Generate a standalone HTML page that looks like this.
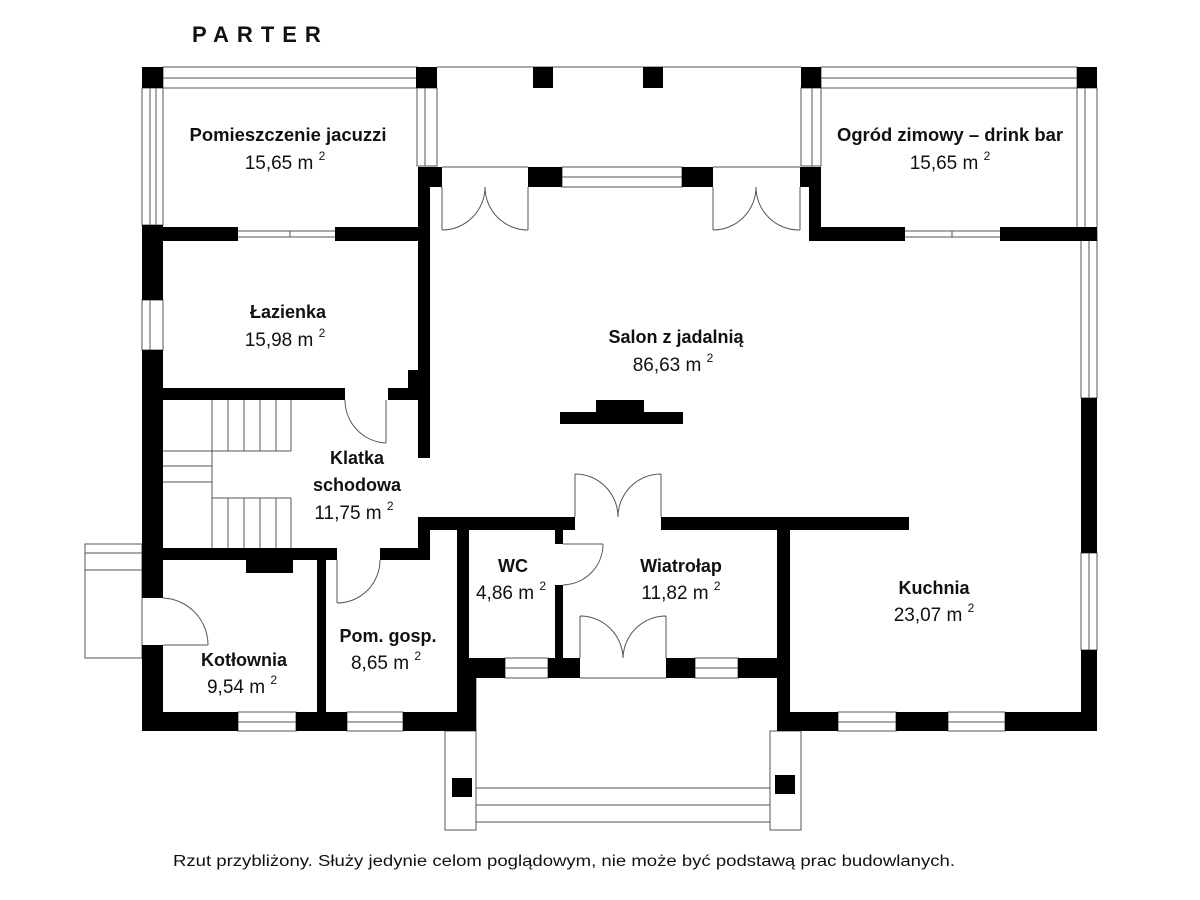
<!DOCTYPE html>
<html><head><meta charset="utf-8"><style>
html,body{margin:0;padding:0;background:#fff;}
svg{display:block;}
text{font-family:"Liberation Sans",sans-serif;fill:#111;}
.b{font-weight:bold;font-size:18px;}
.n{font-size:19px;}
</style></head><body>
<svg width="1200" height="900" viewBox="0 0 1200 900" xmlns="http://www.w3.org/2000/svg">
<g fill="none" stroke="#555" stroke-width="1">
<rect x="163" y="67" width="254" height="21"/><line x1="163" y1="78" x2="417" y2="78"/>
<rect x="821" y="67" width="256" height="21"/><line x1="821" y1="78" x2="1077" y2="78"/>
<line x1="437" y1="67" x2="801" y2="67"/>
<rect x="142" y="88" width="21" height="137"/><line x1="150" y1="88" x2="150" y2="225"/><line x1="156" y1="88" x2="156" y2="225"/>
<rect x="417" y="88" width="20" height="78"/><line x1="425" y1="88" x2="425" y2="166"/>
<rect x="801" y="88" width="20" height="78"/><line x1="812" y1="88" x2="812" y2="166"/>
<rect x="1077" y="88" width="20" height="140"/><line x1="1085" y1="88" x2="1085" y2="228"/>
<rect x="562" y="167" width="120" height="20"/><line x1="562" y1="177" x2="682" y2="177"/>
<line x1="442" y1="167" x2="528" y2="167"/><line x1="713" y1="167" x2="800" y2="167"/>
<path d="M442 187V230M442 230A43 43 0 0 0 485 187M528 187V230M528 230A43 43 0 0 1 485 187"/>
<path d="M713 187V230M713 230A43 43 0 0 0 756 187M800 187V230M800 230A43 43 0 0 1 756 187"/>
<path d="M238 231H335M238 237H335M290 231V237"/>
<path d="M905 231H1000M905 237H1000M952 231V237"/>
<rect x="142" y="300" width="21" height="50"/><line x1="150" y1="300" x2="150" y2="350"/>
<rect x="1081" y="230" width="16" height="168"/><line x1="1089" y1="230" x2="1089" y2="398"/>
<rect x="1081" y="553" width="16" height="97"/><line x1="1089" y1="553" x2="1089" y2="650"/>
<path d="M212 400V548M228 400V451M244 400V451M260 400V451M276 400V451M291 400V451M163 451H291M163 466H212M163 482H212M212 498H291M228 498V548M244 498V548M260 498V548M276 498V548M291 498V548"/>
<path d="M386 400V443M386 443A43 43 0 0 1 345 400"/>
<path d="M337 560V603M337 603A43 43 0 0 0 380 560"/>
<path d="M163 645H208M208 645A47 47 0 0 0 163 598"/>
<path d="M563 544H603M603 544A41 41 0 0 1 563 585"/>
<path d="M575 517V474M575 474A43 43 0 0 1 618 517M661 517V474M661 474A43 43 0 0 0 618 517"/>
<path d="M580 658V616M580 616A43 43 0 0 1 623 658M666 658V616M666 616A43 43 0 0 0 623 658"/>
<line x1="580" y1="678" x2="666" y2="678"/>
<rect x="85" y="544" width="57" height="114"/><line x1="85" y1="553" x2="142" y2="553"/><line x1="85" y1="570" x2="142" y2="570"/>
<rect x="238" y="712" width="58" height="19"/><line x1="238" y1="722" x2="296" y2="722"/>
<rect x="347" y="712" width="56" height="19"/><line x1="347" y1="722" x2="403" y2="722"/>
<rect x="505" y="658" width="43" height="20"/><line x1="505" y1="668" x2="548" y2="668"/>
<rect x="695" y="658" width="43" height="20"/><line x1="695" y1="668" x2="738" y2="668"/>
<rect x="838" y="712" width="58" height="19"/><line x1="838" y1="722" x2="896" y2="722"/>
<rect x="948" y="712" width="57" height="19"/><line x1="948" y1="722" x2="1005" y2="722"/>
<rect x="445" y="731" width="31" height="99"/><rect x="770" y="731" width="31" height="99"/>
<line x1="476" y1="678" x2="476" y2="731"/>
<path d="M476 788H770M476 805H770M476 822H770"/>
</g>
<g fill="#000">
<rect x="142" y="67" width="21" height="21"/><rect x="416" y="67" width="21" height="21"/>
<rect x="533" y="67" width="20" height="21"/><rect x="643" y="67" width="20" height="21"/>
<rect x="801" y="67" width="20" height="21"/><rect x="1077" y="67" width="20" height="21"/>
<rect x="418" y="167" width="24" height="20"/><rect x="528" y="167" width="34" height="20"/>
<rect x="682" y="167" width="31" height="20"/><rect x="800" y="167" width="21" height="20"/>
<rect x="418" y="167" width="12" height="291"/>
<rect x="809" y="167" width="12" height="74"/>
<rect x="142" y="227" width="96" height="14"/><rect x="335" y="227" width="95" height="14"/>
<rect x="809" y="227" width="96" height="14"/><rect x="1000" y="227" width="97" height="14"/>
<rect x="142" y="225" width="21" height="75"/><rect x="142" y="350" width="21" height="248"/><rect x="142" y="645" width="21" height="86"/>
<rect x="1081" y="227" width="16" height="3"/>
<rect x="1081" y="398" width="16" height="155"/><rect x="1081" y="650" width="16" height="81"/>
<rect x="142" y="388" width="203" height="12"/><rect x="388" y="388" width="42" height="12"/>
<rect x="408" y="370" width="12" height="20"/>
<rect x="142" y="548" width="195" height="12"/><rect x="380" y="548" width="50" height="12"/>
<rect x="246" y="560" width="47" height="13"/>
<rect x="418" y="517" width="12" height="43"/>
<rect x="418" y="517" width="157" height="13"/>
<rect x="661" y="517" width="248" height="13"/>
<rect x="317" y="548" width="9" height="183"/>
<rect x="457" y="517" width="12" height="214"/>
<rect x="555" y="530" width="8" height="14"/><rect x="555" y="585" width="8" height="75"/>
<rect x="457" y="658" width="48" height="20"/><rect x="548" y="658" width="32" height="20"/>
<rect x="666" y="658" width="29" height="20"/><rect x="738" y="658" width="52" height="20"/>
<rect x="457" y="658" width="19" height="73"/>
<rect x="777" y="517" width="13" height="214"/>
<rect x="142" y="712" width="96" height="19"/><rect x="296" y="712" width="51" height="19"/><rect x="403" y="712" width="73" height="19"/>
<rect x="777" y="712" width="61" height="19"/><rect x="896" y="712" width="52" height="19"/><rect x="1005" y="712" width="92" height="19"/>
<rect x="560" y="412" width="123" height="12"/><rect x="596" y="400" width="48" height="12"/>
<rect x="452" y="778" width="20" height="19"/><rect x="775" y="775" width="20" height="19"/>
</g>
<text x="192" y="42" font-weight="bold" font-size="22" letter-spacing="8">PARTER</text>
<g text-anchor="middle">
<text class="b" x="288" y="141" textLength="197" lengthAdjust="spacingAndGlyphs">Pomieszczenie jacuzzi</text><text class="n" x="285" y="169">15,65 m <tspan font-size="12" dy="-9">2</tspan></text>
<text class="b" x="950" y="141" textLength="226" lengthAdjust="spacingAndGlyphs">Ogród zimowy – drink bar</text><text class="n" x="950" y="169">15,65 m <tspan font-size="12" dy="-9">2</tspan></text>
<text class="b" x="288" y="318">Łazienka</text><text class="n" x="285" y="346">15,98 m <tspan font-size="12" dy="-9">2</tspan></text>
<text class="b" x="676" y="343">Salon z jadalnią</text><text class="n" x="673" y="371">86,63 m <tspan font-size="12" dy="-9">2</tspan></text>
<text class="b" x="357" y="464">Klatka</text><text class="b" x="357" y="491">schodowa</text><text class="n" x="354" y="519">11,75 m <tspan font-size="12" dy="-9">2</tspan></text>
<text class="b" x="513" y="572">WC</text><text class="n" x="511" y="599">4,86 m <tspan font-size="12" dy="-9">2</tspan></text>
<text class="b" x="681" y="572">Wiatrołap</text><text class="n" x="681" y="599">11,82 m <tspan font-size="12" dy="-9">2</tspan></text>
<text class="b" x="934" y="594">Kuchnia</text><text class="n" x="934" y="621">23,07 m <tspan font-size="12" dy="-9">2</tspan></text>
<text class="b" x="388" y="642">Pom. gosp.</text><text class="n" x="386" y="669">8,65 m <tspan font-size="12" dy="-9">2</tspan></text>
<text class="b" x="244" y="666">Kotłownia</text><text class="n" x="242" y="693">9,54 m <tspan font-size="12" dy="-9">2</tspan></text>
</g>
<text x="173" y="866" font-size="15.5" textLength="782" lengthAdjust="spacingAndGlyphs">Rzut przybliżony. Służy jedynie celom poglądowym, nie może być podstawą prac budowlanych.</text>
</svg>
</body></html>
